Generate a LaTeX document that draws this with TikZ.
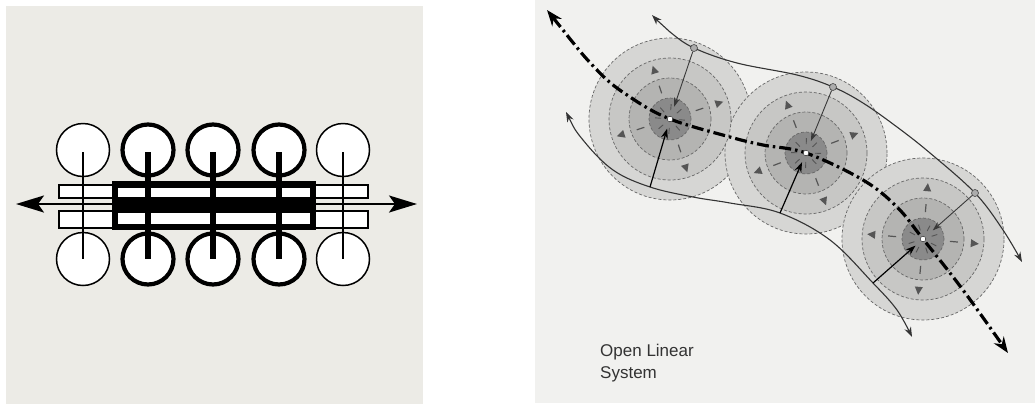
\documentclass[tikz,border=0pt]{standalone}
\usepackage{fontspec}
\setmainfont{Liberation Sans}
\usetikzlibrary{arrows.meta, positioning}

\definecolor{bgleft}{HTML}{ECEBE6}
\definecolor{bgright}{HTML}{F1F1EF}
\definecolor{ringa}{HTML}{D6D6D4}
\definecolor{ringb}{HTML}{C7C7C5}
\definecolor{ringc}{HTML}{B4B4B2}
\definecolor{ringd}{HTML}{8A8A8A}
\definecolor{ink}{HTML}{333333}
\definecolor{tipgray}{HTML}{555555}

\begin{document}
\begin{tikzpicture}[x=1pt, y=-1pt,
    wheel/.style={circle, draw, fill=white, inner sep=0pt, minimum size=53pt, line width=1.5pt},
    heavywheel/.style={wheel, minimum size=51pt, line width=4.2pt},
    slotbar/.style={draw, fill=white, line width=1.5pt},
    disc/.style={circle, inner sep=0pt, draw=gray!80!black, dash pattern=on 3pt off 2pt, line width=0.7pt},
    flow/.style={ink, line width=1.1pt, {Stealth[length=10pt,width=7pt]}-{Stealth[length=10pt,width=7pt]}},
    mainline/.style={black, line width=3.2pt, dash pattern=on 12pt off 4pt on 2.5pt off 4pt,
      {Stealth[length=16pt,width=12pt]}-{Stealth[length=16pt,width=12pt]}},
    outspoke/.style={gray!45!black, line width=0.9pt, -{Stealth[length=9pt,width=6pt]}, shorten >=13pt},
    inspoke/.style={black, line width=1.2pt, -{Stealth[length=10pt,width=7pt]}, shorten >=10pt},
    knot/.style={circle, draw=gray!55!black, fill=gray!65, inner sep=0pt, minimum size=7pt, line width=0.6pt},
    ticker/.style={tipgray, line width=1.2pt},
  ]
  \useasboundingbox (0,0) rectangle (1035,405);

  % Linkes Bild
  \fill[bgleft] (6,6) rectangle (423,404);
  \draw[slotbar] (59,185) rectangle (368,198);
  \draw[slotbar] (59,211) rectangle (368,228);
  \fill[black] (112,181) rectangle (316,230);
  \fill[white] (118,188) rectangle (310,197);
  \fill[white] (118,213) rectangle (310,224);

  \foreach \i/\x in {1/83, 5/343} {
    \node[wheel] (top\i) at (\x,150) {};
    \node[wheel] (bot\i) at (\x,259) {};
    \draw[line width=1.5pt] (top\i.center) ++(0,2) -- (bot\i.center);
  }
  \foreach \i/\x in {2/148, 3/213, 4/279} {
    \node[heavywheel] (top\i) at (\x,150) {};
    \node[heavywheel] (bot\i) at (\x,259) {};
    \draw[line width=6.5pt] (top\i.center) ++(0,2) -- (bot\i.center);
  }

  \coordinate (west) at (16,204);
  \coordinate (east) at (417,204);
  \draw[line width=2.3pt, {Stealth[length=28pt,width=17pt,inset=6pt]}-{Stealth[length=28pt,width=17pt,inset=6pt]}] (west) -- (east);

  % Rechtes Bild
  \fill[bgright] (535,0) rectangle (1035,403);
  \coordinate (c1) at (670,119);
  \coordinate (c2) at (806,153);
  \coordinate (c3) at (923,239);

  % Kreise
  \foreach \n in {1,2,3}
    \node[disc, fill=ringa, minimum size=162pt] (outer\n) at (c\n) {};
  \foreach \n in {1,2,3} {
    \node[disc, fill=ringb, minimum size=122pt] (mid\n) at (c\n) {};
    \node[disc, fill=ringc, minimum size=82pt] (inner\n) at (c\n) {};
    \node[disc, fill=ringd, minimum size=42pt] (core\n) at (c\n) {};
  }

  % Markierungen
  \foreach \n/\r in {1/18, 2/21, 3/-5} {
    \begin{scope}[shift={(c\n)}, rotate=\r]
      \foreach \a in {0,90,180,270} {
        \fill[tipgray, rotate=\a] (56,0) -- (48,4) -- (48,-4) -- cycle;
        \draw[ticker, rotate=\a] (27,0) -- (35,0);
      }
      \foreach \a in {22.5,67.5,...,337.5}
        \draw[ticker, line width=0.9pt, rotate=\a] (9,0) -- (15,0);
    \end{scope}
  }

  % Randkurven
  \draw[flow] plot[smooth, tension=0.6] coordinates {(652,15) (670,32) (694,48) (737,63) (797,75) (833,87)
    (863,103) (897,127) (930,153) (975,193) (1003,230) (1022,262)};
  \draw[flow] plot[smooth, tension=0.6] coordinates {(566,112) (583,140) (613,170) (650,187) (693,197)
    (730,203) (780,213) (830,240) (873,283) (897,310) (912,337)};

  \node[knot] (u1) at (694,48) {};
  \node[knot] (u2) at (833,87) {};
  \node[knot] (u3) at (975,193) {};
  \coordinate (l1) at (650,187);
  \coordinate (l2) at (780,213);
  \coordinate (l3) at (873,283);

  \foreach \n in {1,2,3} {
    \draw[outspoke] (u\n) -- (c\n);
    \draw[inspoke] (l\n) -- (c\n);
  }

  % Achse
  \draw[mainline] plot[smooth, tension=0.6] coordinates {(547,10) (597,70) (630,97) (c1) (730,137)
    (763,145) (c2) (863,180) (897,207) (c3) (963,290) (1008,353)};

  \foreach \n in {1,2,3}
    \filldraw[fill=white, draw=ink, line width=0.5pt] (c\n) circle (2.8pt);

  \node[anchor=north west, inner sep=0pt, align=left, text=ink,
    font=\fontsize{17}{22}\selectfont] (label) at (600,344) {Open Linear\\System};
\end{tikzpicture}
\end{document}
